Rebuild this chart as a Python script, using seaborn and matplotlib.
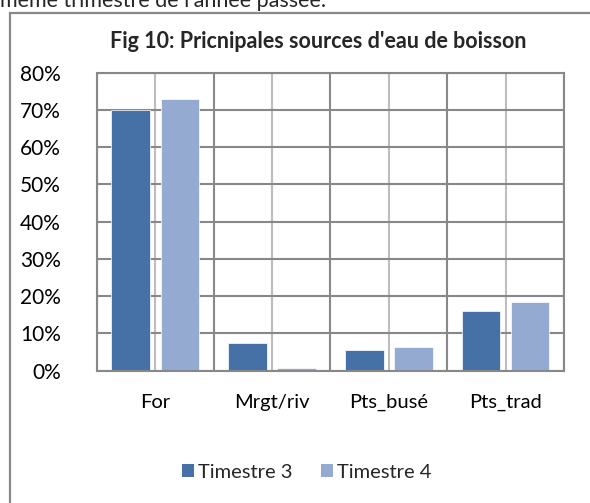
import pandas as pd
import matplotlib
matplotlib.use("Agg")
import matplotlib.pyplot as plt
import matplotlib.patches as mpatches
import seaborn as sns

# ── Data ─────────────────────────────────────────────────────
sources = ["For", "Mrgt/riv", "Pts_busé", "Pts_trad"]
trim3 = [70.0, 7.3, 5.5, 16.0]
trim4 = [73.0, 0.6, 6.2, 18.5]
series = ["Timestre 3", "Timestre 4"]
yticks = [0, 10, 20, 30, 40, 50, 60, 70, 80]

df = pd.DataFrame({
    "source": sources * 2,
    "valeur": trim3 + trim4,
    "trimestre": [series[0]] * 4 + [series[1]] * 4,
})

# ── Style ────────────────────────────────────────────────────
sns.set_style("white")
plt.rcParams["font.family"] = ["Lato", "DejaVu Sans"]
grid_dark = "#888888"
grid_light = "#bdbdbd"
colors = ["#4571A7", "#95AAD1"]

fig = plt.figure(figsize=(5.9, 5.03), dpi=100)
ax = fig.add_axes([0.1644, 0.2634, 0.7915, 0.5924])

sns.barplot(data=df, x="source", y="valeur", hue="trimestre",
            palette=colors, saturation=1, width=0.84, gap=0.21,
            edgecolor="white", linewidth=0.5, ax=ax)

ax.set_xlim(-0.5, 3.5)
ax.set_ylim(0, 80)
ax.set_yticks(yticks)
ax.set_yticklabels([f"{v}%" for v in yticks])
ax.set_xticks(range(len(sources)))
ax.set_xticklabels(sources)
ax.set_xticks([-0.5, 0.5, 1.5, 2.5, 3.5], minor=True)
ax.set_xlabel("")
ax.set_ylabel("")

ax.set_axisbelow(True)
ax.grid(axis="y", which="major", color=grid_dark, linewidth=1.5)
ax.grid(axis="x", which="major", color=grid_light, linewidth=1.5)
ax.grid(axis="x", which="minor", color=grid_dark, linewidth=1.5)
for sp in ax.spines.values():
    sp.set_visible(True)
    sp.set_color(grid_dark)
    sp.set_linewidth(1.5)

ax.tick_params(axis="y", which="both", length=0, pad=26, labelsize=15, colors="black")
ax.tick_params(axis="x", which="both", length=0, pad=17, labelsize=14.5, colors="black")

# legend
ax.get_legend().remove()
handles = [mpatches.Patch(facecolor=c, edgecolor="none") for c in colors]
fig.legend(handles, series, loc="center", bbox_to_anchor=(307 / 590, 1 - 472 / 503),
           ncol=2, frameon=False, fontsize=14.5, handlelength=0.6, handleheight=0.6,
           handletextpad=0.2, columnspacing=1.4)

# title and surrounding text
fig.text(318 / 590, 1 - 42 / 503, "Fig 10: Pricnipales sources d'eau de boisson",
         ha="center", va="center", fontsize=15.5, fontweight="bold")
fig.text(0.0, 1 - 7 / 503, "même trimestre de l'année passée.",
         ha="left", va="baseline", fontsize=15.5)

# chart frame (cut at the right and bottom)
frame = mpatches.Rectangle((10 / 590, -0.05), 1.2, 1 - 13 / 503 + 0.05,
                           transform=fig.transFigure, fill=False,
                           edgecolor=grid_dark, linewidth=1.6, clip_on=False)
fig.patches.append(frame)

fig.savefig("out.png", dpi=100)
